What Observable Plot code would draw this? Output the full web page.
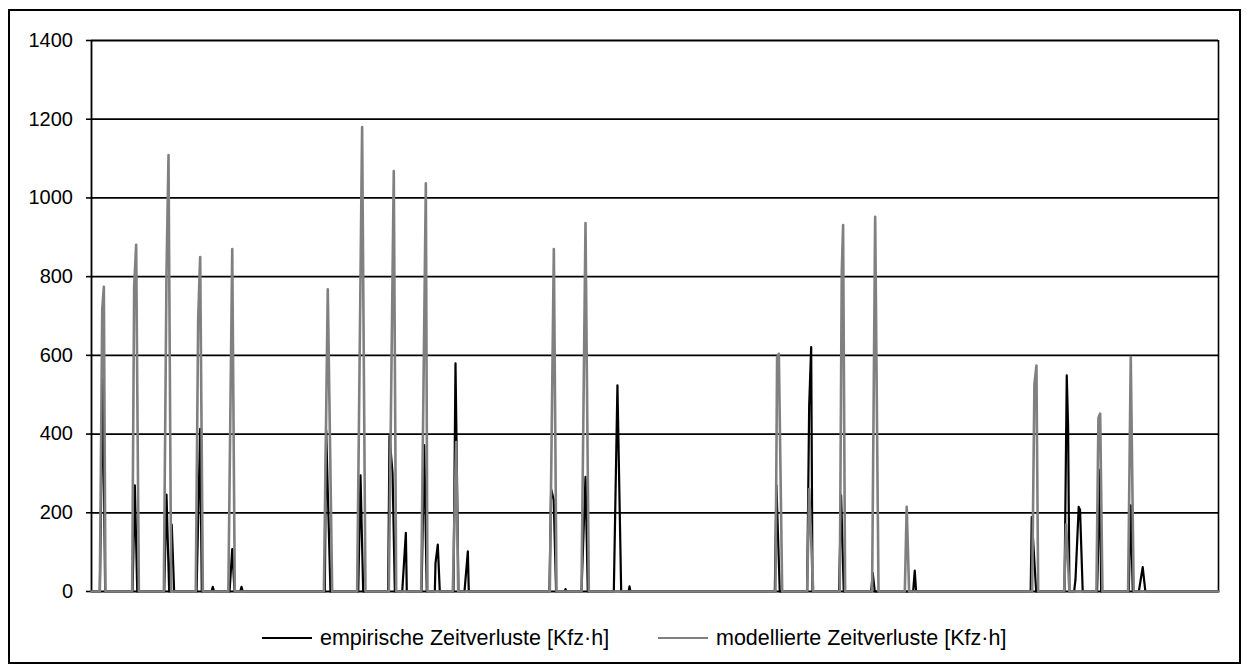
<!DOCTYPE html>
<html>
<head>
<meta charset="utf-8">
<script src="https://cdn.jsdelivr.net/npm/d3@7"></script>
<script src="https://cdn.jsdelivr.net/npm/@observablehq/plot@0.6"></script>
<style>
  html, body { margin: 0; padding: 0; background: #fff; }
  body { width: 1247px; height: 668px; position: relative; overflow: hidden;
         font-family: "Liberation Sans", Arial, sans-serif; }
  #frame { position: absolute; left: 8px; top: 9px; width: 1233px; height: 655px;
           border: 2px solid #000; box-sizing: border-box; }
  #chart { position: absolute; left: 0; top: 0; }
  .leg { position: absolute; top: 626px; height: 24px; display: flex; align-items: center;
         font-size: 21.5px; color: #000; white-space: nowrap; }
  .leg .sw { display: inline-block; width: 50px; margin-right: 8px; }
</style>
</head>
<body>
<div id="frame"></div>
<div id="chart"></div>
<div class="leg" style="left:262px"><span class="sw" style="border-top:2px solid #000"></span><span id="l1"></span></div>
<div class="leg" style="left:658px"><span class="sw" style="border-top:2.5px solid #808080"></span><span id="l2"></span></div>
<script>
// Series names
const seriesNames = ["empirische Zeitverluste [Kfz·h]", "modellierte Zeitverluste [Kfz·h]"];
const seriesColors = ["#000000", "#808080"];

// y-axis ticks
const yTicks = [0, 200, 400, 600, 800, 1000, 1200, 1400];

// Time axis extent in hours (35 days)
const hourExtent = [0, 840];

// empirical delays: [hour, value]
const empirisch = [
  [0,0],
  [6.2,0],[8.4,540],[10.2,0],
  [30.6,0],[32.3,270],[34.1,0],
  [54.2,0],[55.9,246],[57.9,0],[58.4,0],[59.8,170],[61.6,0],
  [89.5,0],[90.4,12],[91.3,0],
  [78.3,0],[81.0,413],[82.2,0],
  [102.9,0],[104.9,108],[106.6,0],
  [110.9,0],[111.8,12],[112.7,0],
  [173.9,0],[174.9,410],[178.1,0],
  [198.8,0],[200.5,295],[202.5,0],
  [221.1,0],[222.1,395],[224.4,300],[226.1,0],
  [231.6,0],[234.3,149],[235.0,0],
  [246.0,0],[248.0,372],[249.9,0],
  [255.9,0],[256.4,72],[258.1,119],[259.6,0],
  [269.8,0],[271.3,580],[272.0,399],[273.5,0],
  [278.0,0],[280.5,102],[281.2,0],
  [341.3,0],[342.6,260],[344.5,233],[346.3,0],
  [352.8,0],[353.3,6],[353.8,0],
  [365.2,0],[368.2,291],[369.9,0],
  [389.3,0],[392.0,524],[394.8,0],
  [400.3,0],[401.0,13],[401.7,0],
  [509.3,0],[510.5,270],[513.0,0],
  [533.4,0],[534.9,471],[536.4,621],[537.4,0],
  [557.2,0],[558.7,244],[560.7,0],
  [581.1,0],[582.3,47],[583.8,0],
  [612.4,0],[613.6,53],[614.6,0],
  [700.0,0],[700.8,189],[704.1,0],
  [725.2,0],[726.9,549],[727.9,420],[728.9,0],
  [732.4,0],[733.4,30],[735.8,215],[736.8,208],[738.8,0],
  [749.5,0],[751.8,310],[752.5,0],
  [773.1,0],[774.6,219],[776.1,0],
  [780.6,0],[783.5,62],[785.5,0],
  [840,0]
];

// modelled delays: [hour, value]
const modelliert = [
  [0,0],
  [6.2,0],[8.0,717],[9.2,774],[10.4,0],
  [30.3,0],[31.8,776],[33.3,881],[35.3,0],
  [53.9,0],[55.9,810],[57.4,1109],[59.4,0],
  [77.7,0],[79.5,692],[81.0,850],[83.0,0],
  [102.0,0],[104.9,870],[106.8,0],
  [173.2,0],[176.1,768],[179.4,0],
  [198.0,0],[201.7,1180],[204.2,0],
  [221.6,0],[225.3,1068],[227.1,0],
  [245.7,0],[249.2,1037],[250.4,0],
  [269.3,0],[271.8,380],[273.3,0],
  [341.6,0],[344.6,870],[346.6,0],
  [365.2,0],[368.2,936],[370.7,0],
  [509.8,0],[511.0,595],[512.3,604],[514.8,0],
  [533.4,0],[534.9,260],[537.9,0],
  [557.7,0],[559.2,810],[560.2,931],[561.7,0],
  [581.8,0],[584.1,952],[586.6,0],
  [606.2,0],[607.6,215],[609.4,0],
  [701.1,0],[702.8,526],[704.3,574],[705.6,0],
  [725.0,0],[726.4,170],[728.9,0],
  [749.0,0],[750.5,441],[751.8,452],[753.5,0],
  [772.6,0],[774.6,596],[776.8,0],
  [840,0]
];

const emp = empirisch.slice().sort((a, b) => a[0] - b[0]);
const mod = modelliert.slice().sort((a, b) => a[0] - b[0]);

document.getElementById("l1").textContent = seriesNames[0];
document.getElementById("l2").textContent = seriesNames[1];

const chart = Plot.plot({
  width: 1247,
  height: 610,
  marginLeft: 91,
  marginRight: 29,
  marginTop: 40,
  marginBottom: 19,
  style: { fontFamily: "'Liberation Sans', Arial, sans-serif", fontSize: "20px", color: "#000", background: "transparent", overflow: "visible" },
  x: { domain: hourExtent, axis: null },
  y: { domain: [0, 1400], axis: null },
  marks: [
    Plot.gridY(yTicks, { stroke: "#000", strokeOpacity: 1, strokeWidth: 1.8 }),
    Plot.ruleX([hourExtent[0]], { stroke: "#000", strokeWidth: 1.8 }),
    Plot.ruleX([hourExtent[1]], { stroke: "#000", strokeWidth: 1.6 }),
    Plot.axisY(yTicks, { tickSize: 5, tickPadding: 13.5, tickFormat: d => String(d), stroke: "#000", strokeWidth: 1.6, label: null, fontSize: 20 }),
    Plot.line(emp, { x: d => d[0], y: d => d[1], stroke: seriesColors[0], strokeWidth: 2.2, strokeLinejoin: "round" }),
    Plot.line(mod, { x: d => d[0], y: d => d[1], stroke: seriesColors[1], strokeWidth: 2.6, strokeLinejoin: "round" })
  ]
});
document.getElementById("chart").appendChild(chart);
</script>
</body>
</html>
